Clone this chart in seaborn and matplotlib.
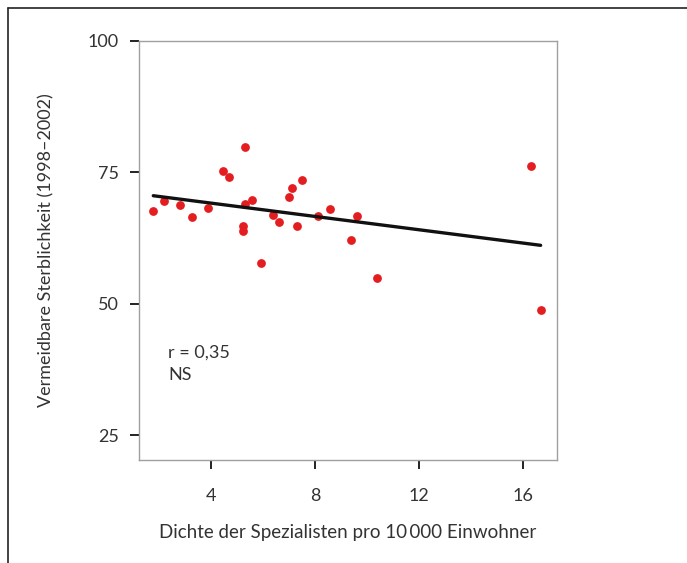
import numpy as np
import pandas as pd
import matplotlib.pyplot as plt
import seaborn as sns
from matplotlib.lines import Line2D

# density of specialists per 10 000 inhabitants vs avoidable mortality
dichte = [1.78, 2.19, 2.81, 3.28, 3.87, 4.47, 4.70, 5.31, 5.31, 5.59,
          5.22, 5.22, 5.91, 6.37, 6.62, 6.99, 7.13, 7.50, 7.30, 8.10,
          8.59, 9.37, 9.62, 10.37, 16.31, 16.68]
sterblichkeit = [67.7, 69.5, 68.8, 66.5, 68.3, 75.2, 74.1, 79.9, 69.0, 69.8,
                 64.9, 63.9, 57.8, 66.9, 65.5, 70.4, 72.1, 73.5, 64.8, 66.7,
                 68.0, 62.1, 66.7, 55.0, 76.3, 48.9]
x_ticks = [4, 8, 12, 16]
y_ticks = [25, 50, 75, 100]

df = pd.DataFrame({"dichte": dichte, "sterblichkeit": sterblichkeit})

sns.set_style("white")
plt.rcParams['font.family'] = ['Lato', 'DejaVu Sans']

fig = plt.figure(figsize=(6.87, 5.63), dpi=100)
ax = fig.add_axes([0.2023, 0.1829, 0.6085, 0.7443])

sns.regplot(data=df, x="dichte", y="sterblichkeit", ax=ax, ci=None,
            scatter_kws={"color": "#e41e20", "s": 40, "linewidths": 0, "alpha": 1},
            line_kws={"color": "#111111", "lw": 2.4})

ax.set_xlim(1.23, 17.31)
ax.set_ylim(20.3, 100)
ax.set_xticks(x_ticks)
ax.set_yticks(y_ticks)
ax.tick_params(axis="both", direction="out", length=6.5, width=1.4, color="#222222",
               labelsize=13, labelcolor="#333333", bottom=True, left=True)
ax.tick_params(axis="x", pad=14)
ax.tick_params(axis="y", pad=8)
for s in ax.spines.values():
    s.set_color("#a0a0a0")
    s.set_linewidth(1.0)

ax.set_xlabel("Dichte der Spezialisten pro 10\u2009000 Einwohner", fontsize=13.5,
              color="#333333", labelpad=14)
ax.set_ylabel("Vermeidbare Sterblichkeit (1998–2002)", fontsize=13,
              color="#333333", labelpad=24)

ax.text(2.35, 40.7, "r = 0,35", fontsize=13, color="#333333", va="center")
ax.text(2.35, 36.5, "NS", fontsize=13, color="#333333", va="center")

# outer frame of the figure
fig.add_artist(Line2D([8 / 687, 1.0], [1 - 8 / 563, 1 - 8 / 563], color="#222222", lw=1.2))
fig.add_artist(Line2D([8 / 687, 8 / 687], [0.0, 1 - 8 / 563], color="#222222", lw=1.2))

plt.savefig("out.png", dpi=100)
